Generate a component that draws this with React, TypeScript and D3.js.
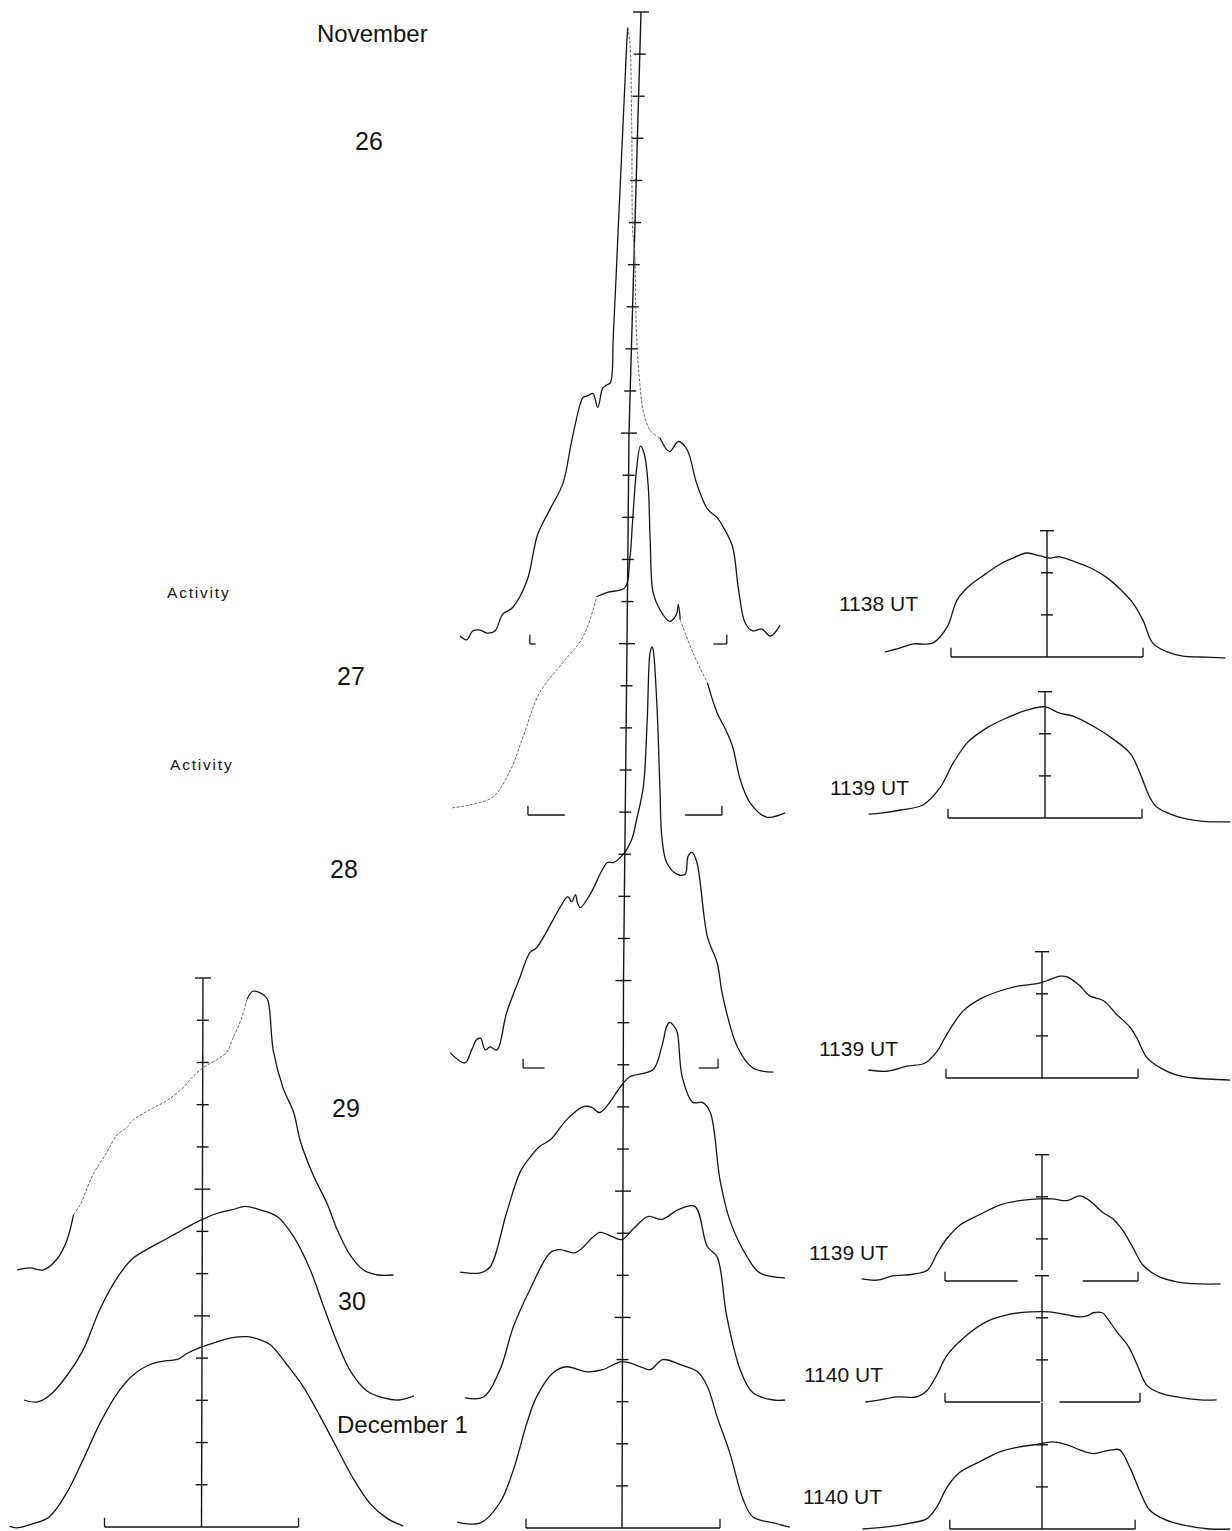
import * as d3 from "d3";

type Pt = [number, number];

// x: offset from line centre in bracket half-widths, y: intensity in axis divisions
// centre column
const nov26: Pt[] = [
  [-1.68, 0.19], [-1.61, 0.1], [-1.55, 0.31], [-1.47, 0.33], [-1.4, 0.26], [-1.32, 0.31],
  [-1.24, 0.71], [-1.14, 0.86], [-0.99, 1.5], [-0.88, 2.6], [-0.75, 3.21], [-0.62, 3.81],
  [-0.53, 4.81], [-0.44, 5.71], [-0.41, 5.86], [-0.36, 5.9], [-0.31, 5.95], [-0.26, 5.62],
  [-0.21, 6.07], [-0.17, 6.15], [-0.13, 6.21], [-0.1, 7.31], [-0.05, 9.83], [-0.01, 11.83],
  [0.02, 13.33], [0.04, 14.33], [0.05, 14.64], [0.07, 14.33], [0.09, 12.33], [0.1, 9.83],
  [0.12, 9.31], [0.14, 7.31], [0.18, 6.02], [0.21, 5.52], [0.28, 5.07], [0.38, 4.9],
  [0.48, 4.57], [0.57, 4.81], [0.66, 4.62], [0.76, 3.81], [0.87, 3.21], [0.97, 3.0],
  [1.05, 2.71], [1.13, 2.31], [1.19, 1.31], [1.26, 0.5], [1.34, 0.31], [1.43, 0.36],
  [1.52, 0.19], [1.62, 0.45],
];
const nov27: Pt[] = [
  [-1.76, 0.17], [-1.58, 0.24], [-1.34, 0.43], [-1.16, 1.07], [-1.03, 1.86], [-0.86, 2.9],
  [-0.62, 3.62], [-0.41, 4.24], [-0.27, 5.19], [-0.16, 5.29], [0.02, 5.4], [0.07, 6.07],
  [0.1, 7.02], [0.14, 8.21], [0.18, 8.76], [0.22, 8.57], [0.26, 7.81], [0.28, 6.55],
  [0.31, 5.29], [0.38, 4.88], [0.48, 4.6], [0.55, 4.76], [0.57, 5.0], [0.59, 4.64],
  [0.72, 3.86], [0.87, 3.14], [0.97, 2.43], [1.06, 2.02], [1.13, 1.62], [1.21, 0.83],
  [1.31, 0.29], [1.48, -0.05], [1.67, 0.05],
];
const nov28: Pt[] = [
  [-1.78, 0.36], [-1.63, 0.12], [-1.56, 0.43], [-1.51, 0.67], [-1.47, 0.71], [-1.42, 0.43],
  [-1.37, 0.5], [-1.3, 0.43], [-1.2, 1.31], [-1.06, 2.17], [-0.96, 2.74], [-0.89, 2.86],
  [-0.65, 3.81], [-0.57, 4.07], [-0.53, 3.95], [-0.49, 4.12], [-0.47, 3.93], [-0.44, 3.81],
  [-0.34, 4.12], [-0.16, 4.88], [-0.1, 4.88], [0.0, 5.07], [0.09, 5.43], [0.14, 5.9],
  [0.21, 6.69], [0.25, 8.29], [0.28, 9.88], [0.3, 10.0], [0.31, 9.95], [0.35, 8.6],
  [0.38, 6.69], [0.4, 5.5], [0.45, 4.88], [0.56, 4.6], [0.64, 4.6], [0.67, 5.02],
  [0.71, 5.12], [0.76, 4.9], [0.87, 3.12], [0.97, 2.5], [1.03, 1.69], [1.18, 0.5],
  [1.34, 0.0], [1.55, -0.1],
];
const nov29: Pt[] = [
  [-1.68, 0.07], [-1.47, 0.05], [-1.37, 0.19], [-1.2, 1.48], [-1.06, 2.45], [-0.96, 2.79],
  [-0.86, 3.05], [-0.75, 3.21], [-0.58, 3.69], [-0.41, 4.0], [-0.32, 3.98], [-0.24, 3.86],
  [-0.01, 4.52], [0.07, 4.71], [0.31, 4.88], [0.4, 5.43], [0.45, 5.9], [0.48, 6.0],
  [0.53, 5.9], [0.56, 5.76], [0.61, 4.71], [0.72, 4.1], [0.82, 4.1], [0.9, 3.86],
  [1.0, 2.26], [1.1, 1.31], [1.28, 0.43], [1.41, 0.05], [1.67, -0.07],
];
const nov30: Pt[] = [
  [-1.63, 0.05], [-1.44, 0.07], [-1.27, 0.71], [-1.13, 1.74], [-0.96, 2.62], [-0.75, 3.5],
  [-0.65, 3.57], [-0.49, 3.5], [-0.24, 3.98], [-0.11, 3.88], [-0.01, 3.81], [0.1, 4.05],
  [0.26, 4.36], [0.4, 4.29], [0.57, 4.52], [0.74, 4.6], [0.87, 3.64], [0.97, 3.4],
  [1.07, 1.98], [1.21, 0.71], [1.34, 0.17], [1.55, 0.0], [1.67, 0.0],
];
const dec1: Pt[] = [
  [-1.71, 0.14], [-1.47, 0.12], [-1.27, 0.6], [-1.13, 1.38], [-0.99, 2.5], [-0.89, 3.12],
  [-0.72, 3.69], [-0.58, 3.83], [-0.37, 3.71], [-0.21, 3.76], [-0.01, 3.95], [0.18, 3.83],
  [0.28, 3.76], [0.41, 4.0], [0.59, 3.88], [0.77, 3.71], [0.87, 3.36], [0.97, 2.64],
  [1.1, 1.79], [1.24, 0.67], [1.34, 0.26], [1.55, 0.12], [1.72, 0.02],
];

// left column
const nov29Left: Pt[] = [
  [-1.9, 0.12], [-1.77, 0.17], [-1.63, 0.12], [-1.49, 0.38], [-1.39, 0.81], [-1.32, 1.43],
  [-1.25, 1.67], [-1.12, 2.38], [-0.98, 2.9], [-0.87, 3.33], [-0.77, 3.5], [-0.71, 3.67],
  [-0.53, 3.93], [-0.36, 4.14], [-0.19, 4.45], [-0.09, 4.71], [0.02, 4.93], [0.16, 5.12],
  [0.26, 5.29], [0.32, 5.6], [0.4, 6.02], [0.47, 6.55], [0.53, 6.74], [0.63, 6.67],
  [0.68, 6.55], [0.74, 5.33], [0.84, 4.45], [0.95, 3.86], [1.02, 3.17], [1.15, 2.38],
  [1.3, 1.67], [1.4, 1.07], [1.54, 0.45], [1.67, 0.12], [1.82, 0.0], [1.98, 0.0],
];
const nov30Left: Pt[] = [
  [-1.83, 0.0], [-1.7, -0.05], [-1.57, 0.1], [-1.39, 0.57], [-1.22, 1.19], [-1.05, 2.14],
  [-0.87, 2.9], [-0.71, 3.36], [-0.53, 3.62], [-0.36, 3.83], [-0.19, 4.05], [-0.02, 4.26],
  [0.16, 4.43], [0.32, 4.52], [0.45, 4.6], [0.6, 4.52], [0.78, 4.36], [0.95, 3.88],
  [1.12, 3.1], [1.26, 2.21], [1.4, 1.36], [1.54, 0.67], [1.71, 0.21], [1.88, 0.05],
  [2.03, 0.0], [2.19, 0.1],
];
const dec1Left: Pt[] = [
  [-1.98, 0.02], [-1.91, -0.02], [-1.75, 0.07], [-1.57, 0.24], [-1.39, 0.81], [-1.22, 1.6],
  [-1.05, 2.45], [-0.87, 3.17], [-0.71, 3.6], [-0.53, 3.86], [-0.36, 3.95], [-0.25, 3.98],
  [-0.15, 4.12], [-0.02, 4.26], [0.16, 4.4], [0.32, 4.5], [0.47, 4.52], [0.6, 4.45],
  [0.71, 4.33], [0.88, 3.86], [1.05, 3.33], [1.22, 2.64], [1.4, 1.86], [1.56, 1.17],
  [1.74, 0.55], [1.91, 0.21], [2.08, 0.02],
];

// right column
const ut1138: Pt[] = [
  [-1.67, 0.12], [-1.52, 0.21], [-1.38, 0.31], [-1.18, 0.33], [-1.03, 0.71], [-0.93, 1.34],
  [-0.82, 1.65], [-0.66, 1.93], [-0.48, 2.21], [-0.35, 2.35], [-0.21, 2.47], [-0.07, 2.4],
  [0.03, 2.35], [0.13, 2.38], [0.31, 2.24], [0.47, 2.09], [0.62, 1.88], [0.75, 1.62],
  [0.89, 1.27], [0.99, 0.87], [1.09, 0.33], [1.24, 0.12], [1.4, 0.02], [1.58, 0.0], [1.84, -0.02],
];
const ut1139a: Pt[] = [
  [-1.82, 0.09], [-1.67, 0.12], [-1.49, 0.19], [-1.26, 0.31], [-1.08, 0.73], [-0.95, 1.29],
  [-0.8, 1.79], [-0.6, 2.14], [-0.39, 2.38], [-0.19, 2.56], [0.0, 2.64], [0.15, 2.49],
  [0.29, 2.42], [0.49, 2.19], [0.7, 1.88], [0.88, 1.53], [0.98, 1.06], [1.08, 0.49],
  [1.15, 0.26], [1.32, 0.07], [1.53, -0.05], [1.7, -0.09], [1.91, -0.09],
];
const ut1139b: Pt[] = [
  [-1.79, 0.19], [-1.6, 0.16], [-1.39, 0.28], [-1.21, 0.35], [-1.08, 0.64], [-0.98, 1.04],
  [-0.81, 1.6], [-0.61, 1.91], [-0.36, 2.12], [-0.23, 2.19], [-0.05, 2.24], [0.05, 2.31],
  [0.19, 2.42], [0.26, 2.4], [0.39, 2.19], [0.49, 1.95], [0.63, 1.84], [0.77, 1.51],
  [0.91, 1.2], [0.98, 0.94], [1.08, 0.49], [1.22, 0.24], [1.39, 0.07], [1.56, 0.0], [1.94, -0.05],
];
const ut1139c: Pt[] = [
  [-1.86, 0.05], [-1.7, 0.02], [-1.54, 0.12], [-1.33, 0.16], [-1.18, 0.26], [-1.08, 0.66],
  [-0.98, 1.01], [-0.85, 1.32], [-0.64, 1.58], [-0.43, 1.81], [-0.23, 1.91], [-0.02, 1.95],
  [0.11, 1.95], [0.26, 1.91], [0.39, 2.02], [0.49, 1.91], [0.63, 1.62], [0.73, 1.48],
  [0.84, 1.18], [0.94, 0.78], [1.04, 0.38], [1.19, 0.12], [1.39, -0.02], [1.63, -0.07], [1.84, -0.07],
];
const ut1140a: Pt[] = [
  [-1.82, 0.0], [-1.67, 0.05], [-1.49, 0.12], [-1.29, 0.12], [-1.19, 0.26], [-1.08, 0.66],
  [-0.98, 1.11], [-0.77, 1.6], [-0.57, 1.91], [-0.36, 2.07], [-0.12, 2.14], [0.08, 2.14],
  [0.26, 2.07], [0.39, 2.02], [0.47, 2.05], [0.53, 2.12], [0.62, 2.12], [0.67, 2.0],
  [0.77, 1.67], [0.89, 1.32], [0.98, 0.89], [1.08, 0.4], [1.22, 0.21], [1.39, 0.12],
  [1.63, 0.05], [1.8, 0.05],
];
const ut1140b: Pt[] = [
  [-1.85, 0.0], [-1.6, 0.05], [-1.36, 0.14], [-1.19, 0.24], [-1.08, 0.54], [-0.98, 0.99],
  [-0.85, 1.34], [-0.64, 1.6], [-0.43, 1.84], [-0.23, 1.95], [-0.02, 2.02], [0.11, 2.07],
  [0.26, 2.0], [0.39, 1.88], [0.53, 1.79], [0.63, 1.84], [0.72, 1.88], [0.8, 1.88],
  [0.91, 1.44], [1.01, 0.89], [1.11, 0.45], [1.25, 0.24], [1.46, 0.09], [1.73, 0.0], [1.94, 0.0],
];

const dayLabels = ["26", "27", "28", "29", "30", "December 1"];
const utLabels = ["1138 UT", "1139 UT", "1139 UT", "1139 UT", "1140 UT", "1140 UT"];

const W = 1232;
const H = 1531;
const UX = 97; // px per bracket half-width
const UY = 42.1; // px per axis division
const INK = "#151515";
const FONT = "'Liberation Sans', Arial, sans-serif";

interface Panel {
  data: Pt[];
  cx: number;
  base: number;
  faint?: [number, number][];
  bracket: [number, number][];
  axis?: { from: number; cap: boolean };
}

const panels: Panel[] = [
  { data: nov26, cx: 623, base: 644, faint: [[26, 35]], bracket: [[-0.96, -0.9], [0.93, 1.07]] },
  { data: nov27, cx: 623, base: 815, faint: [[0, 8], [23, 25]], bracket: [[-0.98, -0.6], [0.64, 1.02]] },
  { data: nov28, cx: 623, base: 1068, bracket: [[-1.03, -0.81], [0.78, 0.98]] },
  { data: nov29, cx: 623, base: 1275, bracket: [] },
  { data: nov30, cx: 623, base: 1400, bracket: [] },
  { data: dec1, cx: 623, base: 1528, bracket: [[-1.0, 1.0]] },
  { data: nov29Left, cx: 201.5, base: 1275, faint: [[5, 21]], bracket: [] },
  { data: nov30Left, cx: 201.5, base: 1400, bracket: [] },
  { data: dec1Left, cx: 201.5, base: 1527, bracket: [[-1.0, 1.0]] },
  { data: ut1138, cx: 1047, base: 657, bracket: [[-0.99, 0.99]], axis: { from: 0, cap: true } },
  { data: ut1139a, cx: 1045, base: 818, bracket: [[-1.0, 1.0]], axis: { from: 0, cap: true } },
  { data: ut1139b, cx: 1042, base: 1078, bracket: [[-0.99, 0.99]], axis: { from: 0, cap: true } },
  { data: ut1139c, cx: 1042, base: 1281, bracket: [[-1.0, -0.25], [0.42, 0.99]], axis: { from: 0.26, cap: true } },
  { data: ut1140a, cx: 1042, base: 1402, bracket: [[-1.0, -0.02], [0.18, 1.01]], axis: { from: 0, cap: true } },
  { data: ut1140b, cx: 1042, base: 1529, bracket: [[-0.95, 0.96]], axis: { from: 0, cap: false } },
];

// split a trace into solid / faint pieces that share their end points
function pieces(n: number, faint: [number, number][]) {
  const out: { a: number; b: number; faint: boolean }[] = [];
  let i = 0;
  for (const [s, e] of faint) {
    if (s > i) out.push({ a: i, b: s, faint: false });
    out.push({ a: s, b: e, faint: true });
    i = e;
  }
  if (i < n - 1) out.push({ a: i, b: n - 1, faint: false });
  return out;
}

function Profile({ p }: { p: Panel }) {
  const x = d3.scaleLinear().domain([-1, 1]).range([p.cx - UX, p.cx + UX]);
  const y = d3.scaleLinear().domain([0, 1]).range([p.base, p.base - UY]);
  const line = d3
    .line<Pt>()
    .x((d) => x(d[0]))
    .y((d) => y(d[1]))
    .curve(d3.curveCatmullRom.alpha(0.5));
  const segs = pieces(p.data.length, p.faint ?? []);
  const br = p.bracket;
  return (
    <g>
      {segs.map((s, i) => (
        <path
          key={i}
          d={line(p.data.slice(s.a, s.b + 1)) ?? ""}
          fill="none"
          stroke={s.faint ? "#6a6a6a" : INK}
          strokeWidth={s.faint ? 1 : 1.3}
          strokeDasharray={s.faint ? "3 1.5" : undefined}
        />
      ))}
      {br.map(([a, b], i) => (
        <line key={"b" + i} x1={x(a)} x2={x(b)} y1={y(0)} y2={y(0)} stroke={INK} strokeWidth={1.3} />
      ))}
      {br.length > 0 && (
        <>
          <line x1={x(br[0][0])} x2={x(br[0][0])} y1={y(0)} y2={y(0.22)} stroke={INK} strokeWidth={1.3} />
          <line
            x1={x(br[br.length - 1][1])}
            x2={x(br[br.length - 1][1])}
            y1={y(0)}
            y2={y(0.22)}
            stroke={INK}
            strokeWidth={1.3}
          />
        </>
      )}
      {p.axis && (
        <g stroke={INK} strokeWidth={1.4}>
          <line x1={p.cx} x2={p.cx} y1={y(p.axis.from)} y2={y(3)} />
          {[1, 2].map((t) => (
            <line key={t} x1={p.cx - 6} x2={p.cx + 6} y1={y(t)} y2={y(t)} />
          ))}
          {p.axis.cap && <line x1={p.cx - 7} x2={p.cx + 7} y1={y(3)} y2={y(3)} />}
        </g>
      )}
    </g>
  );
}

// long vertical scale of the centre and left columns; the scanned line leans,
// so its x is given at a few tick indices (knots)
function Scale({
  n,
  y0,
  y1,
  knots,
  caps,
}: {
  n: number;
  y0: number;
  y1: number;
  knots: [number, number][];
  caps: number[];
}) {
  const ty = d3.scaleLinear().domain([0, n]).range([y0, y1]);
  const tx = d3
    .scaleLinear()
    .domain(knots.map((k) => k[0]))
    .range(knots.map((k) => k[1]));
  const path = d3
    .line<[number, number]>()
    .x((k) => k[1])
    .y((k) => ty(k[0]))(knots);
  return (
    <g stroke={INK} strokeWidth={1.4} fill="none">
      <path d={path ?? ""} />
      {d3.range(n).map((k) => {
        const w = caps.includes(k) ? 8 : 6;
        return <line key={k} x1={tx(k) - w} x2={tx(k) + w} y1={ty(k)} y2={ty(k)} />;
      })}
    </g>
  );
}

const dayPos = [
  { x: 355, y: 150 },
  { x: 337, y: 685 },
  { x: 330, y: 878 },
  { x: 332, y: 1117 },
  { x: 338, y: 1310 },
  { x: 337, y: 1433 },
];
const utPos = [
  { x: 839, y: 611 },
  { x: 830, y: 795 },
  { x: 819, y: 1056 },
  { x: 809, y: 1260 },
  { x: 804, y: 1382 },
  { x: 803, y: 1504 },
];

export default function App() {
  return (
    <svg
      width={W}
      height={H}
      viewBox={`0 0 ${W} ${H}`}
      style={{ position: "absolute", left: 0, top: 0, background: "#fff", display: "block" }}
      fontFamily={FONT}
    >
      <rect width={W} height={H} fill="#fff" />
      <Scale
        n={36}
        y0={12}
        y1={1528}
        knots={[[0, 641], [10, 629], [15, 627], [23, 623.5], [36, 622]]}
        caps={[0, 10, 15, 23, 28, 31]}
      />
      <Scale n={13} y0={978} y1={1527} knots={[[0, 203], [13, 201.5]]} caps={[0, 5, 8]} />
      {panels.map((p, i) => (
        <Profile key={i} p={p} />
      ))}
      <g fill={INK}>
        <text x={317} y={42} fontSize={24}>
          November
        </text>
        {dayLabels.map((t, i) => (
          <text key={t} x={dayPos[i].x} y={dayPos[i].y} fontSize={i === 5 ? 24 : 25}>
            {t}
          </text>
        ))}
        <text x={167} y={598} fontSize={15.5} letterSpacing={1.8}>
          Activity
        </text>
        <text x={170} y={770} fontSize={15.5} letterSpacing={1.8}>
          Activity
        </text>
        {utLabels.map((t, i) => (
          <text key={i} x={utPos[i].x} y={utPos[i].y} fontSize={21}>
            {t}
          </text>
        ))}
      </g>
    </svg>
  );
}
